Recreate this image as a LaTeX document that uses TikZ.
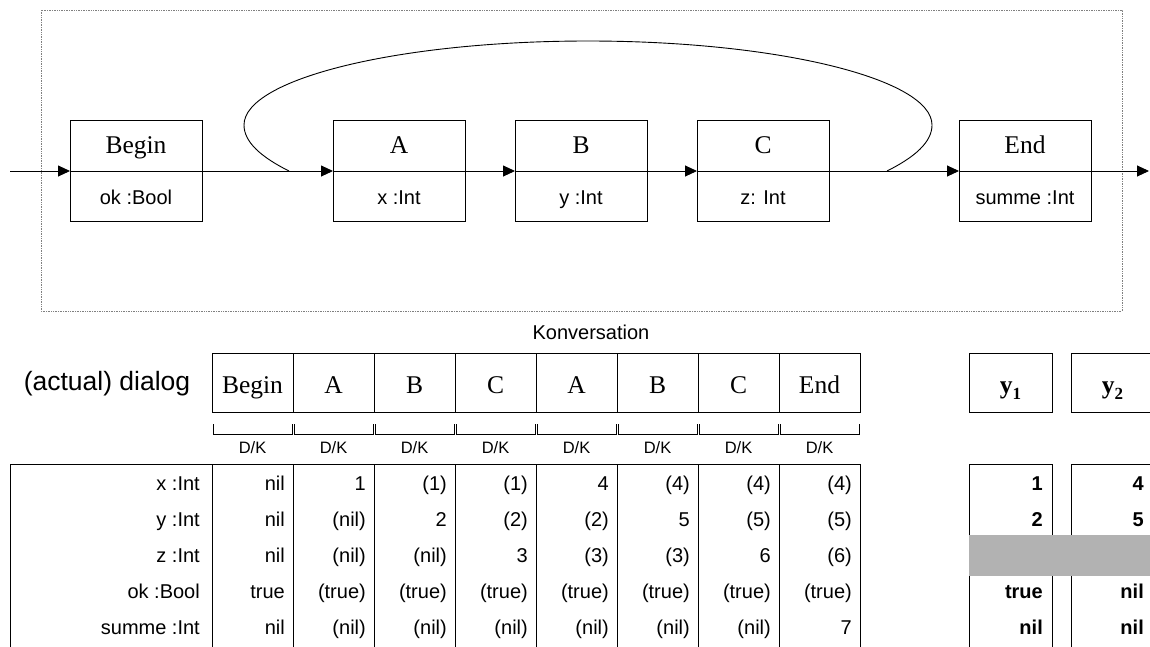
\documentclass[tikz,border=0pt]{standalone}
\usepackage{fontspec}
\setmainfont{Liberation Serif}
\setsansfont{Liberation Sans}
\usetikzlibrary{arrows.meta,positioning,shapes.multipart}
\definecolor{bandgray}{HTML}{B2B2B2}
\newcommand{\sz}[1]{\fontsize{#1}{#1}\selectfont}
\newcommand{\pstrut}{\rule[-17pt]{0pt}{50pt}}
\newcommand{\attr}{\sffamily\sz{20}\pstrut}

\begin{document}
\begin{tikzpicture}[
			x=1pt,y=-1pt,
			cls/.style={draw,line width=0.9pt,rectangle split,rectangle split parts=2,minimum width=132pt,inner xsep=0pt,inner ysep=0pt,outer sep=0pt,font=\rmfamily\sz{25.5}},
			cell/.style={draw,line width=0.9pt,minimum width=81pt,minimum height=59pt,inner sep=0pt,outer sep=0pt,text height=24pt,text depth=3pt,font=\rmfamily\sz{25.5}},
			dk/.style={inner sep=0pt,font=\sffamily\sz{16.5}},
			lbl/.style={anchor=east,inner sep=0pt,text height=14pt,text depth=4pt,font=\sffamily\sz{20}},
			val/.style={lbl},
			rval/.style={lbl,font=\sffamily\bfseries\sz{20}},
			arr/.style={-{Triangle[length=12pt,width=11pt]},line width=0.9pt},
			loop/.style={line width=0.9pt},
			brk/.style={line width=0.9pt},
			tbl/.style={line width=0.9pt},
			frame/.style={densely dotted,gray,line width=0.7pt}
			]
			\useasboundingbox (0,0) rectangle (1150,646);
			\clip (0,0) rectangle (1150,646);
			\draw[frame] (41,10) rectangle (1122,311);
			\node[cls] (begin) at (136,171) {\pstrut Begin\nodepart{two}\attr ok :Bool};
			\node[cls] (a) [right=131pt of begin] {\pstrut A\nodepart{two}\attr x :Int};
			\node[cls] (b) [right=50pt of a] {\pstrut B\nodepart{two}\attr y :Int};
			\node[cls] (c) [right=50pt of b] {\pstrut C\nodepart{two}\attr z: Int};
			\node[cls] (end) [right=130pt of c] {\pstrut End\nodepart{two}\attr summe :Int};
			\coordinate (in) at (10,171);
			\coordinate (out) at (1149,171);
			\coordinate (loopin) at (289,171);
			\coordinate (loopout) at (887,171);
			\draw[arr] (in)--(begin); \draw[arr] (begin)--(a); \draw[arr] (a)--(b);
			\draw[arr] (b)--(c); \draw[arr] (c)--(end); \draw[arr] (end)--(out);
			\draw[loop] (loopout) .. controls (915,157) and (932,142) .. (932,125)
				.. controls (932,79) and (778,41) .. (588,41)
				.. controls (398,41) and (244,79) .. (244,125)
				.. controls (244,142) and (261,157) .. (loopin);
			\node[font=\sffamily\sz{20}] (konv) at (591,332) {Konversation};
			\node[font=\sffamily\sz{26.5}] (dlg) at (107,384) {(actual) dialog};
			\node[cell] (d1) at (252.5,382.5) {Begin};
			\node[cell] (d2) [right=0pt of d1] {A};
			\node[cell] (d3) [right=0pt of d2] {B};
			\node[cell] (d4) [right=0pt of d3] {C};
			\node[cell] (d5) [right=0pt of d4] {A};
			\node[cell] (d6) [right=0pt of d5] {B};
			\node[cell] (d7) [right=0pt of d6] {C};
			\node[cell] (d8) [right=0pt of d7] {End};
			\foreach \c in {1,...,8} {
				\draw[brk] ([xshift=1pt,yshift=-12pt]d\c.south west) |- ([xshift=-1pt,yshift=-22pt]d\c.south east) -- ([xshift=-1pt,yshift=-12pt]d\c.south east);
				\node[dk] (k\c) at ([yshift=-36pt]d\c.south) {D/K};
			}
			\node[cell,minimum width=83pt] (y1) at (1010.5,382.5) {\textbf{y\raisebox{-6pt}{\sz{17}1}}};
			\node[cell,minimum width=83pt] (y2) [right=19pt of y1] {\textbf{y\raisebox{-6pt}{\sz{17}2}}};
			% variable table
			\coordinate (ttop) at (10,464);
			\coordinate (tbot) at (10,650);
			\draw[tbl] (tbot) -- (ttop) -- (d8.east |- ttop) -- (d8.east |- tbot);
			\foreach \c in {1,...,7} \draw[tbl] (d\c.east |- ttop) -- (d\c.east |- tbot);
			\draw[tbl] (d1.west |- ttop) -- (d1.west |- tbot);
			\foreach \r/\t in {1/x :Int,2/y :Int,3/z :Int,4/ok :Bool,5/summe :Int}
				\node[lbl] (l\r) at (200,449+36*\r) {\t};
			\foreach \r/\vals in {1/{nil,1,(1),(1),4,(4),(4),(4)},
					2/{nil,(nil),2,(2),(2),5,(5),(5)},
					3/{nil,(nil),(nil),3,(3),(3),6,(6)},
					4/{true,(true),(true),(true),(true),(true),(true),(true)},
					5/{nil,(nil),(nil),(nil),(nil),(nil),(nil),7}}
				\foreach \v [count=\c] in \vals
					\node[val,xshift=-8pt] (v\r\c) at (d\c.east |- l\r) {\v};
			% result columns
			\draw[tbl] (y1.west |- tbot) -- (y1.west |- ttop) -- (y1.east |- ttop) -- (y1.east |- tbot);
			\draw[tbl] (y2.west |- tbot) -- (y2.west |- ttop) -- (y2.east |- ttop) -- (y2.east |- tbot);
			\fill[bandgray] (969,535) rectangle (1154,576);
			\foreach \r/\p/\q in {1/1/4,2/2/5,4/true/nil,5/nil/nil} {
				\node[rval,xshift=-9pt] (p\r) at (y1.east |- l\r) {\p};
				\node[rval,xshift=-10pt] (q\r) at (y2.east |- l\r) {\q};
			}
		\end{tikzpicture}
\end{document}
